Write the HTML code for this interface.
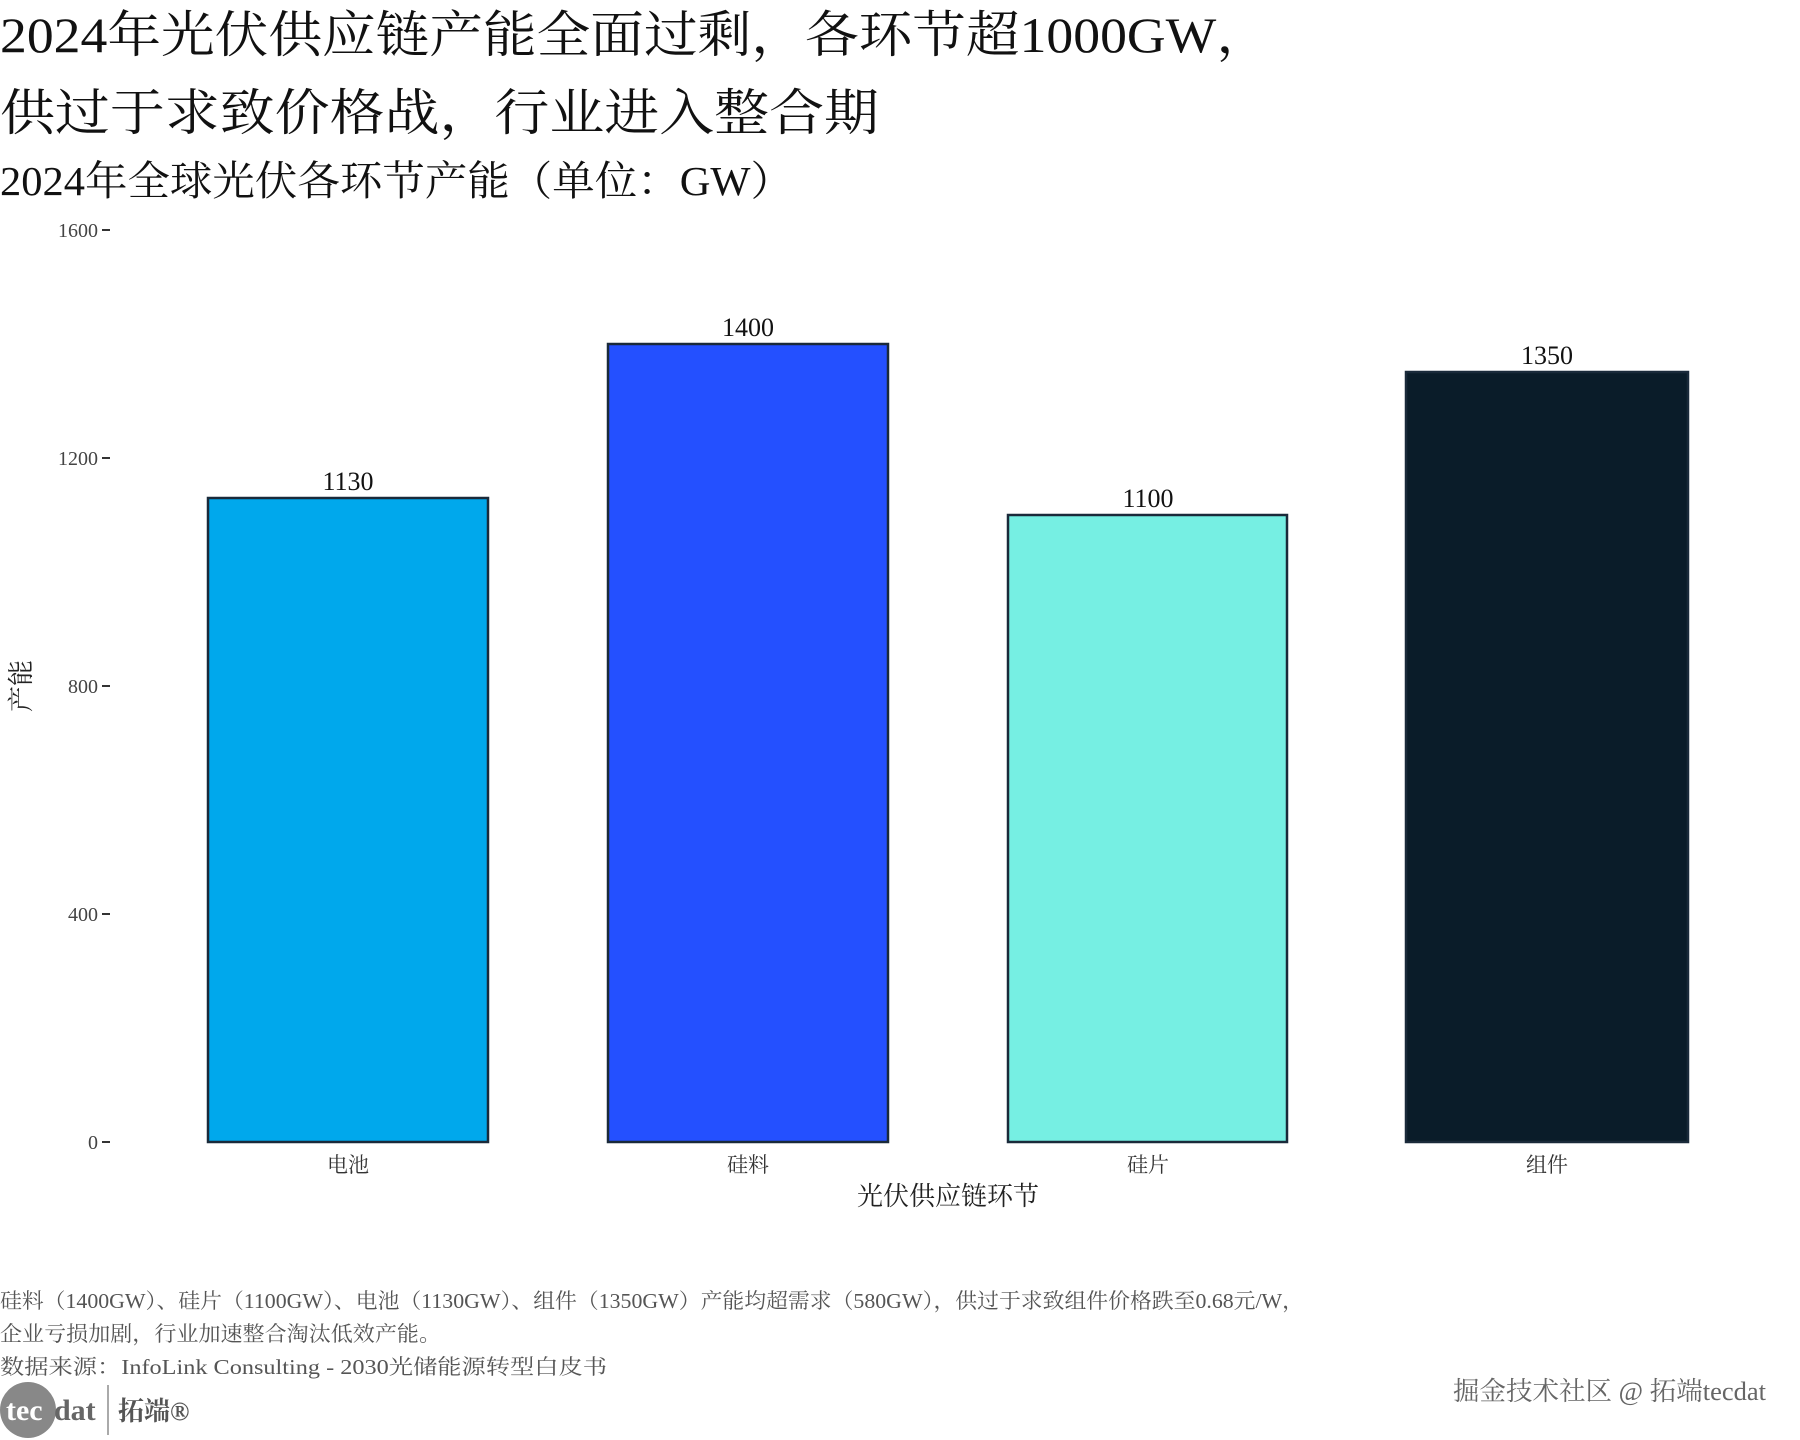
<!DOCTYPE html>
<html><head><meta charset="utf-8"><style>
html,body{margin:0;padding:0;background:#fff;}
svg{display:block;}
text{font-family:"Liberation Serif","Noto Serif CJK SC",serif;}
</style></head><body>
<svg width="1800" height="1440" viewBox="0 0 1800 1440" xmlns="http://www.w3.org/2000/svg">
<text x="0" y="52" font-size="50" fill="#111" textLength="1270" lengthAdjust="spacingAndGlyphs">2024年光伏供应链产能全面过剩，各环节超1000GW，</text>
<text x="0" y="130" font-size="50" fill="#111" textLength="879" lengthAdjust="spacingAndGlyphs">供过于求致价格战，行业进入整合期</text>
<text x="0" y="195" font-size="41" fill="#111" textLength="793" lengthAdjust="spacingAndGlyphs">2024年全球光伏各环节产能（单位：GW）</text>
<g font-size="20" fill="#444" text-anchor="end">
<text x="98" y="237">1600</text>
<text x="98" y="465">1200</text>
<text x="98" y="693">800</text>
<text x="98" y="921">400</text>
<text x="98" y="1149">0</text>
</g>
<g stroke="#333" stroke-width="2">
<line x1="102" y1="230" x2="110" y2="230"/>
<line x1="102" y1="458" x2="110" y2="458"/>
<line x1="102" y1="686" x2="110" y2="686"/>
<line x1="102" y1="914" x2="110" y2="914"/>
<line x1="102" y1="1142" x2="110" y2="1142"/>
</g>
<g stroke="#1a2a3a" stroke-width="2.5">
<rect x="208" y="498" width="280" height="644" fill="#00a8ec"/>
<rect x="608" y="344" width="280" height="798" fill="#2450ff"/>
<rect x="1008" y="515" width="279" height="627" fill="#76efe3"/>
<rect x="1406" y="372" width="282" height="770" fill="#0a1c29"/>
</g>
<g font-size="26" fill="#111" text-anchor="middle">
<text x="348" y="490">1130</text>
<text x="748" y="336">1400</text>
<text x="1148" y="507">1100</text>
<text x="1547" y="364">1350</text>
</g>
<g font-size="21" fill="#333" text-anchor="middle">
<text x="348" y="1172">电池</text>
<text x="748" y="1172">硅料</text>
<text x="1148" y="1172">硅片</text>
<text x="1547" y="1172">组件</text>
</g>
<text x="948" y="1205" font-size="26" fill="#222" text-anchor="middle">光伏供应链环节</text>
<text transform="translate(30,686) rotate(-90)" font-size="26" fill="#222" text-anchor="middle">产能</text>
<g font-size="21" fill="#555">
<text x="0" y="1308" textLength="1304" lengthAdjust="spacingAndGlyphs">硅料（1400GW）、硅片（1100GW）、电池（1130GW）、组件（1350GW）产能均超需求（580GW），供过于求致组件价格跌至0.68元/W，</text>
<text x="0" y="1341" textLength="441" lengthAdjust="spacingAndGlyphs">企业亏损加剧，行业加速整合淘汰低效产能。</text>
<text x="0" y="1374" textLength="607" lengthAdjust="spacingAndGlyphs">数据来源：InfoLink Consulting - 2030光储能源转型白皮书</text>
</g>
<circle cx="28" cy="1410" r="28" fill="#888"/>
<text x="6" y="1420" font-size="30" font-weight="bold" fill="#fff" font-family="Liberation Sans,sans-serif">tec</text>
<text x="54" y="1420" font-size="30" font-weight="bold" fill="#666" font-family="Liberation Sans,sans-serif">dat</text>
<line x1="108" y1="1385" x2="108" y2="1435" stroke="#aaa" stroke-width="2"/>
<text x="118" y="1420" font-size="26" font-weight="bold" fill="#555">拓端®</text>
<text x="1766" y="1400" font-size="26" fill="#666" text-anchor="end" textLength="313" lengthAdjust="spacingAndGlyphs">掘金技术社区 @ 拓端tecdat</text>
</svg>
</body></html>
